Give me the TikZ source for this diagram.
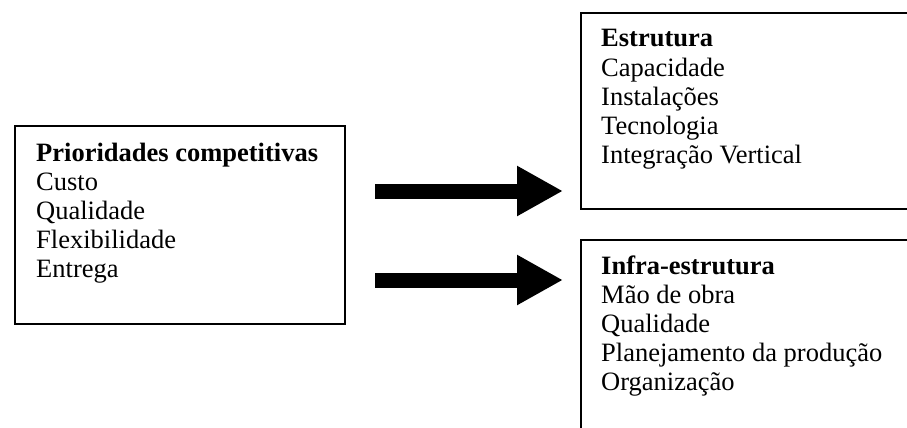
\documentclass[tikz,border=0pt]{standalone}
\usepackage{fontspec}
\setmainfont{Liberation Serif}
\usetikzlibrary{arrows.meta}
\begin{document}
\begin{tikzpicture}[x=1pt,y=-1pt,
  box/.style={draw, line width=2pt, inner sep=0pt, anchor=north west},
  txt/.style={anchor=base west, inner sep=0pt, font=\fontsize{26.5}{29}\selectfont},
  bigarrow/.style={line width=15pt, -{Triangle[length=46pt,width=47pt]}}]
\useasboundingbox (0,0) rectangle (907,428);
\clip (0,0) rectangle (907,428);
% boxes
\node[box, minimum width=330pt, minimum height=198pt] (left) at (13.5,125) {};
\node[box, minimum width=400pt, minimum height=196pt] (top) at (580,12) {};
\node[box, minimum width=400pt, minimum height=250pt] (bottom) at (580,239) {};
% left text
\node[txt] (l1) at (36,161) {\bfseries Prioridades competitivas};
\node[txt] (l2) at (36,190) {Custo};
\node[txt] (l3) at (36,219) {Qualidade};
\node[txt] (l4) at (36,248) {Flexibilidade};
\node[txt] (l5) at (36,277) {Entrega};
% top text
\node[txt] (t1) at (601,47) {\bfseries Estrutura};
\node[txt] (t2) at (601,76) {Capacidade};
\node[txt] (t3) at (601,105) {Instalações};
\node[txt] (t4) at (601,134) {Tecnologia};
\node[txt] (t5) at (601,163) {Integração Vertical};
% bottom text
\node[txt] (b1) at (601,274) {\bfseries Infra-estrutura};
\node[txt] (b2) at (601,303) {Mão de obra};
\node[txt] (b3) at (601,332) {Qualidade};
\node[txt] (b4) at (601,361) {Planejamento da produção};
\node[txt] (b5) at (601,390) {Organização};
% arrows
\coordinate (a1s) at (375,191);
\coordinate (a1e) at (563,191);
\coordinate (a2s) at (375,280);
\coordinate (a2e) at (563,280);
\draw[bigarrow] (a1s) -- (a1e);
\draw[bigarrow] (a2s) -- (a2e);
\end{tikzpicture}
\end{document}
